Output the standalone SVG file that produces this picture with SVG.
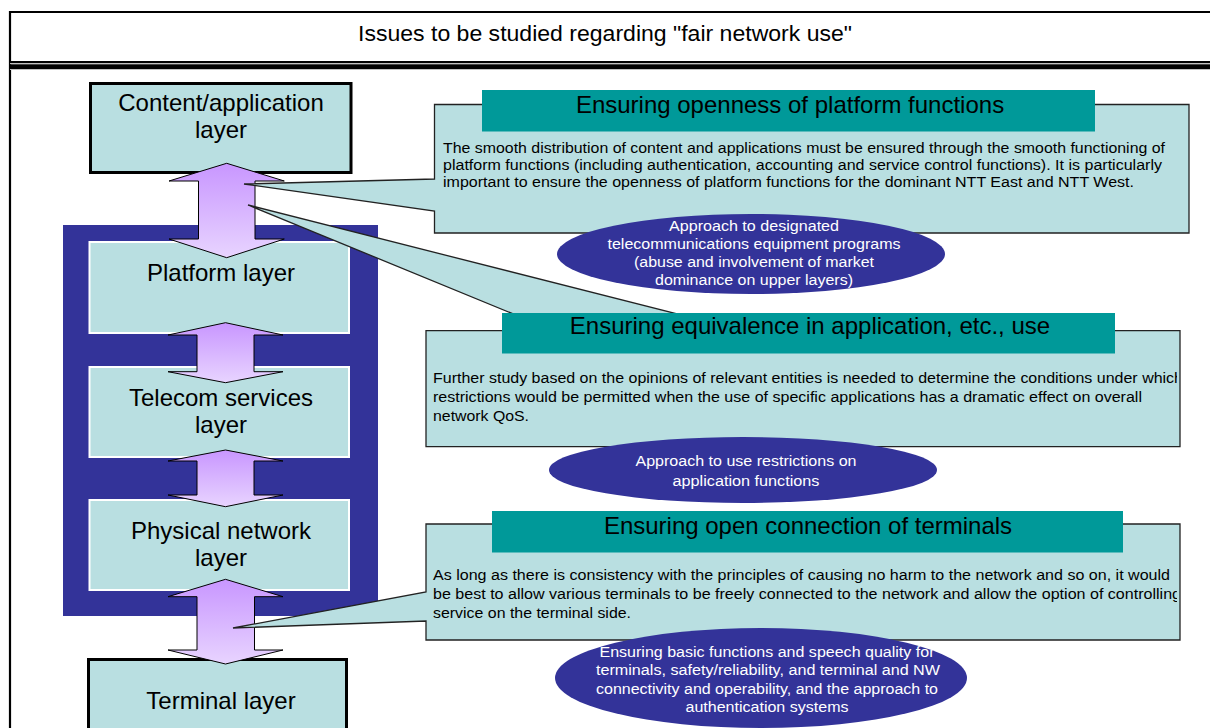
<svg xmlns="http://www.w3.org/2000/svg" width="1210" height="728" viewBox="0 0 1210 728">
  <defs>
    <linearGradient id="arrowFill" x1="0" y1="0" x2="0" y2="1">
      <stop offset="0" stop-color="#c896ff"/>
      <stop offset="1" stop-color="#e8d4ff"/>
    </linearGradient>
    <clipPath id="clipBody2"><rect x="426" y="330" width="751" height="117"/></clipPath>
    <clipPath id="clipBody3"><rect x="426" y="524" width="751" height="116"/></clipPath>
    <clipPath id="clipOval3"><ellipse cx="761" cy="678" rx="206" ry="50"/></clipPath>
    <style>
      text { font-family: "Liberation Sans", Arial, sans-serif; fill: #000; }
      .title { font-size: 22px; text-anchor: middle; }
      .layer { font-size: 24px; text-anchor: middle; }
      .head { font-size: 24px; text-anchor: middle; }
      .body { font-size: 15.5px; }
      .oval-text { font-size: 15.5px; text-anchor: middle; fill: #fff; }
      .layer-box { fill: #b9dfe1; stroke: #fff; stroke-width: 2; }
      .end-box { fill: #b9dfe1; stroke: #000; stroke-width: 3; }
      .callout { fill: #b9dfe1; stroke: #222; stroke-width: 1.3; stroke-linejoin: miter; }
      .header-bar { fill: #009999; }
      .oval { fill: #333399; }
      .arrow { fill: url(#arrowFill); stroke: #000; stroke-width: 1; }
    </style>
  </defs>

  <rect width="1210" height="728" fill="#fff"/>

  <!-- page frame and title band -->
  <g id="frame">
    <path d="M10,728 V12 H1212" fill="none" stroke="#000" stroke-width="2.2"/>
    <rect x="10" y="61" width="1202" height="2" fill="#000"/>
    <rect x="10" y="63" width="1202" height="1.3" fill="#c0c0c0"/>
    <rect x="10" y="64.3" width="1202" height="4.7" fill="#000"/>
    <rect x="10" y="69" width="1202" height="1" fill="#c0c0c0"/>
    <text class="title" x="605" y="41" textLength="494" lengthAdjust="spacingAndGlyphs">Issues to be studied regarding "fair network use"</text>
  </g>

  <!-- network layer stack -->
  <g id="network-block">
    <rect x="63" y="225" width="315" height="391" fill="#333399"/>
  </g>
  <g id="content-layer">
    <rect class="end-box" x="90.5" y="83.5" width="260.5" height="89"/>
    <text class="layer" x="221" y="111">Content/application</text>
    <text class="layer" x="221" y="138">layer</text>
  </g>
  <g id="platform-layer">
    <rect class="layer-box" x="89.5" y="242" width="259.5" height="91"/>
    <text class="layer" x="221" y="281">Platform layer</text>
  </g>
  <g id="telecom-layer">
    <rect class="layer-box" x="89.5" y="367" width="259.5" height="90"/>
    <text class="layer" x="221" y="406">Telecom services</text>
    <text class="layer" x="221" y="433">layer</text>
  </g>
  <g id="physical-layer">
    <rect class="layer-box" x="89.5" y="500" width="259.5" height="90"/>
    <text class="layer" x="221" y="539">Physical network</text>
    <text class="layer" x="221" y="566">layer</text>
  </g>
  <g id="terminal-layer">
    <rect class="end-box" x="88.5" y="659.5" width="258" height="80"/>
    <text class="layer" x="221" y="709">Terminal layer</text>
  </g>

  <!-- connectors: double-headed arrows between layers -->
  <g id="connectors">
    <polygon class="arrow" points="226.7,163.3 284.3,181 255,181 255,239 284.3,239 226.7,257.7 169,239 198.5,239 198.5,181 169,181"/>
    <polygon class="arrow" points="225.5,322.7 283,335 254,335 254,371.7 283,371.7 225.5,382.7 168,371.7 197,371.7 197,335 168,335"/>
    <polygon class="arrow" points="225.5,450 283,461 254,461 254,495 283,495 225.5,506.7 168,495 197,495 197,461 168,461"/>
    <polygon class="arrow" points="225.5,579.3 283,596.7 254.5,596.7 254.5,650 283,650 225.5,664 168,650 197,650 197,596.7 168,596.7"/>
  </g>

  <!-- issue 1: platform openness -->
  <g id="issue-platform">
    <path class="callout" d="M434.5,104.5 H1189 V233 H434.5 V211 L244,184 L434.5,179 Z"/>
    <rect class="header-bar" x="482" y="90" width="613" height="41.5"/>
    <text class="head" x="790" y="113">Ensuring openness of platform functions</text>
    <text class="body" x="443" y="153" textLength="722" lengthAdjust="spacingAndGlyphs">The smooth distribution of content and applications must be ensured through the smooth functioning of</text>
    <text class="body" x="443" y="170" textLength="719" lengthAdjust="spacingAndGlyphs">platform functions (including authentication, accounting and service control functions). It is particularly</text>
    <text class="body" x="443" y="187" textLength="691" lengthAdjust="spacingAndGlyphs">important to ensure the openness of platform functions for the dominant NTT East and NTT West.</text>
  </g>

  <!-- issue 2: equivalence in application use -->
  <g id="issue-application">
    <path class="callout" d="M426,330.7 H554 L248,205 L743,330.7 H1180 V446.7 H426 Z"/>
    <rect class="header-bar" x="502" y="313" width="613" height="40.5"/>
    <text class="head" x="810" y="334">Ensuring equivalence in application, etc., use</text>
    <g clip-path="url(#clipBody2)">
      <text class="body" x="433" y="383" textLength="750" lengthAdjust="spacingAndGlyphs">Further study based on the opinions of relevant entities is needed to determine the conditions under which</text>
      <text class="body" x="433" y="402" textLength="709" lengthAdjust="spacingAndGlyphs">restrictions would be permitted when the use of specific applications has a dramatic effect on overall</text>
      <text class="body" x="433" y="421" textLength="96" lengthAdjust="spacingAndGlyphs">network QoS.</text>
    </g>
  </g>

  <!-- issue 3: open terminal connection -->
  <g id="issue-terminal">
    <path class="callout" d="M426,524 H1180 V640 H426 V621 L233,628 L426,592 Z"/>
    <rect class="header-bar" x="492" y="511" width="631" height="41.5"/>
    <text class="head" x="808" y="534">Ensuring open connection of terminals</text>
    <g clip-path="url(#clipBody3)">
      <text class="body" x="433" y="580" textLength="737" lengthAdjust="spacingAndGlyphs">As long as there is consistency with the principles of causing no harm to the network and so on, it would</text>
      <text class="body" x="433" y="599" textLength="748" lengthAdjust="spacingAndGlyphs">be best to allow various terminals to be freely connected to the network and allow the option of controlling</text>
      <text class="body" x="433" y="618" textLength="198" lengthAdjust="spacingAndGlyphs">service on the terminal side.</text>
    </g>
  </g>

  <!-- related study items -->
  <g id="item-designated-equipment">
    <ellipse class="oval" cx="751" cy="254" rx="194" ry="40"/>
    <text class="oval-text" x="754" y="231" textLength="170" lengthAdjust="spacingAndGlyphs">Approach to designated</text>
    <text class="oval-text" x="754" y="249" textLength="293" lengthAdjust="spacingAndGlyphs">telecommunications equipment programs</text>
    <text class="oval-text" x="754" y="267" textLength="240" lengthAdjust="spacingAndGlyphs">(abuse and involvement of market</text>
    <text class="oval-text" x="754" y="285" textLength="198" lengthAdjust="spacingAndGlyphs">dominance on upper layers)</text>
  </g>
  <g id="item-use-restrictions">
    <ellipse class="oval" cx="743" cy="470" rx="194" ry="33"/>
    <text class="oval-text" x="746" y="466" textLength="221" lengthAdjust="spacingAndGlyphs">Approach to use restrictions on</text>
    <text class="oval-text" x="746" y="486" textLength="147" lengthAdjust="spacingAndGlyphs">application functions</text>
  </g>
  <g id="item-terminal-quality">
    <ellipse class="oval" cx="761" cy="678" rx="206" ry="50"/>
    <g clip-path="url(#clipOval3)">
      <text class="oval-text" x="767" y="657" textLength="335" lengthAdjust="spacingAndGlyphs">Ensuring basic functions and speech quality for</text>
      <text class="oval-text" x="768" y="675" textLength="344" lengthAdjust="spacingAndGlyphs">terminals, safety/reliability, and terminal and NW</text>
      <text class="oval-text" x="767" y="694" textLength="342" lengthAdjust="spacingAndGlyphs">connectivity and operability, and the approach to</text>
      <text class="oval-text" x="767" y="712" textLength="163" lengthAdjust="spacingAndGlyphs">authentication systems</text>
    </g>
  </g>
</svg>
